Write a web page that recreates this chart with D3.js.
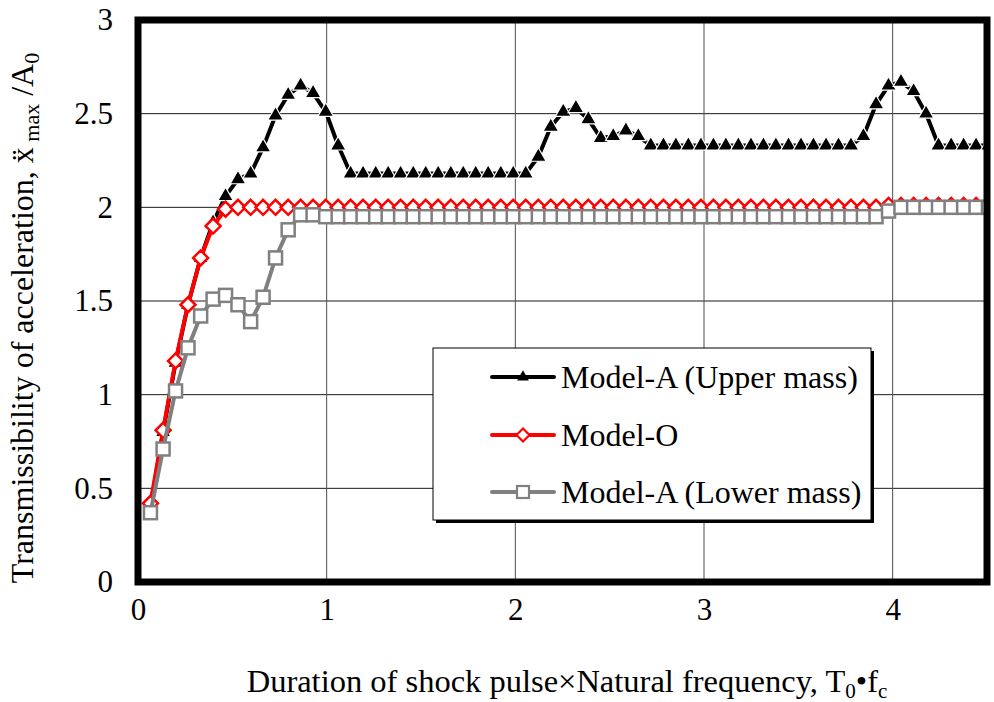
<!DOCTYPE html>
<html>
<head>
<meta charset="utf-8">
<script src="https://cdn.jsdelivr.net/npm/d3@7"></script>
<style>
  html, body { margin: 0; padding: 0; background: #fff; }
  svg { display: block; }
  text { font-family: "Liberation Serif", "Times New Roman", serif; fill: #000; }
</style>
</head>
<body>
<svg id="chart" width="994" height="702"></svg>
<script>
// Duration of shock pulse × natural frequency (T0·fc)
const durations = [
  0.066, 0.133, 0.199, 0.265, 0.332, 0.398, 0.464, 0.530, 0.597, 0.663,
  0.729, 0.796, 0.862, 0.928, 0.995, 1.061, 1.127, 1.193, 1.260, 1.326,
  1.392, 1.459, 1.525, 1.591, 1.658, 1.724, 1.790, 1.856, 1.923, 1.989,
  2.055, 2.122, 2.188, 2.254, 2.321, 2.387, 2.453, 2.519, 2.586, 2.652,
  2.718, 2.785, 2.851, 2.917, 2.984, 3.050, 3.116, 3.182, 3.249, 3.315,
  3.381, 3.448, 3.514, 3.580, 3.647, 3.713, 3.779, 3.845, 3.912, 3.978,
  4.044, 4.111, 4.177, 4.243, 4.310, 4.376, 4.442, 4.508
];

// Model-A, upper mass
const upperMass = [
  0.40, 0.80, 1.17, 1.48, 1.73, 1.92, 2.06, 2.15, 2.18, 2.32,
  2.49, 2.60, 2.65, 2.61, 2.51, 2.33, 2.18, 2.18, 2.18, 2.18,
  2.18, 2.18, 2.18, 2.18, 2.18, 2.18, 2.18, 2.18, 2.18, 2.18,
  2.18, 2.27, 2.43, 2.51, 2.53, 2.47, 2.37, 2.38, 2.41, 2.38,
  2.33, 2.33, 2.33, 2.33, 2.33, 2.33, 2.33, 2.33, 2.33, 2.33,
  2.33, 2.33, 2.33, 2.33, 2.33, 2.33, 2.33, 2.38, 2.55, 2.65,
  2.67, 2.62, 2.50, 2.33, 2.33, 2.33, 2.33, 2.33
];

// Model-O
const modelO = [
  0.42, 0.81, 1.18, 1.48, 1.73, 1.90, 1.99, 2.00, 2.00, 2.00,
  2.00, 2.00, 2.00, 2.00, 2.00, 2.00, 2.00, 2.00, 2.00, 2.00,
  2.00, 2.00, 2.00, 2.00, 2.00, 2.00, 2.00, 2.00, 2.00, 2.00,
  2.00, 2.00, 2.00, 2.00, 2.00, 2.00, 2.00, 2.00, 2.00, 2.00,
  2.00, 2.00, 2.00, 2.00, 2.00, 2.00, 2.00, 2.00, 2.00, 2.00,
  2.00, 2.00, 2.00, 2.00, 2.00, 2.00, 2.00, 2.00, 2.00, 2.01,
  2.01, 2.01, 2.01, 2.01, 2.01, 2.01, 2.01, 2.01
];

// Model-A, lower mass
const lowerMass = [
  0.37, 0.71, 1.02, 1.25, 1.42, 1.51, 1.53, 1.48, 1.39, 1.52,
  1.73, 1.88, 1.96, 1.96, 1.95, 1.95, 1.95, 1.95, 1.95, 1.95,
  1.95, 1.95, 1.95, 1.95, 1.95, 1.95, 1.95, 1.95, 1.95, 1.95,
  1.95, 1.95, 1.95, 1.95, 1.95, 1.95, 1.95, 1.95, 1.95, 1.95,
  1.95, 1.95, 1.95, 1.95, 1.95, 1.95, 1.95, 1.95, 1.95, 1.95,
  1.95, 1.95, 1.95, 1.95, 1.95, 1.95, 1.95, 1.95, 1.95, 1.98,
  2.00, 2.00, 2.00, 2.00, 2.00, 2.00, 2.00, 2.00
];

const xTicks = [0, 1, 2, 3, 4];
const yTicks = [0, 0.5, 1, 1.5, 2, 2.5, 3];
const seriesNames = ["Model-A (Upper mass)", "Model-O", "Model-A (Lower mass)"];

const svg = d3.select("#chart");
const plot = { left: 138, right: 987, top: 20, bottom: 582 };

const x = d3.scaleLinear().domain([0, 4.5]).range([plot.left, plot.right]);
const y = d3.scaleLinear().domain([0, 3]).range([plot.bottom, plot.top]);

// clip region for the data
svg.append("defs").append("clipPath").attr("id", "plotClip")
  .append("rect")
  .attr("x", plot.left).attr("y", plot.top)
  .attr("width", plot.right - plot.left).attr("height", plot.bottom - plot.top);

// gridlines
const grid = svg.append("g");
grid.selectAll("line.h").data(yTicks.filter(d => d > 0 && d < 3)).enter()
  .append("line")
  .attr("x1", plot.left).attr("x2", plot.right)
  .attr("y1", d => y(d)).attr("y2", d => y(d))
  .attr("stroke", "#1a1a1a").attr("stroke-width", 1);
grid.selectAll("line.v").data(xTicks.filter(d => d > 0)).enter()
  .append("line")
  .attr("y1", plot.top).attr("y2", plot.bottom)
  .attr("x1", d => x(d)).attr("x2", d => x(d))
  .attr("stroke", "#4d4d4d").attr("stroke-width", 1);

// axes (labels only; frame drawn separately)
const xAxis = svg.append("g")
  .attr("transform", `translate(0,${plot.bottom})`)
  .call(d3.axisBottom(x).tickValues(xTicks).tickSize(0).tickPadding(16).tickFormat(d3.format("d")));
xAxis.select(".domain").remove();
xAxis.selectAll("text").attr("font-size", 31);

const yAxis = svg.append("g")
  .attr("transform", `translate(${plot.left},0)`)
  .call(d3.axisLeft(y).tickValues(yTicks).tickSize(0).tickPadding(25).tickFormat(d => d3.format("")(d)));
yAxis.select(".domain").remove();
yAxis.selectAll("text").attr("font-size", 31);

// series
const series = [
  { name: seriesNames[0], values: upperMass, color: "#000000", marker: "triangle" },
  { name: seriesNames[1], values: modelO, color: "#ff0000", marker: "diamond" },
  { name: seriesNames[2], values: lowerMass, color: "#808080", marker: "square" }
];

function drawMarker(g, type, color) {
  if (type === "triangle") {
    g.append("path")
      .attr("d", d3.symbol(d3.symbolTriangle, 105)())
      .attr("fill", "#000").attr("stroke", "#fff").attr("stroke-width", 1.2);
  } else if (type === "diamond") {
    g.append("path")
      .attr("d", "M0,-7.5 L7.5,0 L0,7.5 L-7.5,0 Z")
      .attr("fill", "#fff").attr("stroke", color).attr("stroke-width", 2.5);
  } else {
    g.append("rect")
      .attr("x", -6.5).attr("y", -6.5).attr("width", 13).attr("height", 13)
      .attr("fill", "#fff").attr("stroke", color).attr("stroke-width", 2.5);
  }
}

const dataLayer = svg.append("g").attr("clip-path", "url(#plotClip)");
const line = d3.line().x((d, i) => x(durations[i])).y(d => y(d));

series.forEach(s => {
  const g = dataLayer.append("g");
  g.append("path")
    .attr("d", line(s.values))
    .attr("fill", "none")
    .attr("stroke", s.color)
    .attr("stroke-width", 4)
    .attr("stroke-linejoin", "round");
  s.values.forEach((v, i) => {
    const m = g.append("g").attr("transform", `translate(${x(durations[i])},${y(v)})`);
    drawMarker(m, s.marker, s.color);
  });
});

// plot frame
svg.append("rect")
  .attr("x", plot.left).attr("y", plot.top)
  .attr("width", plot.right - plot.left).attr("height", plot.bottom - plot.top)
  .attr("fill", "none").attr("stroke", "#000").attr("stroke-width", 7);

// legend
const lg = { x: 433, y: 348, w: 438, h: 172 };
svg.append("rect")
  .attr("x", lg.x + 3).attr("y", lg.y + 3).attr("width", lg.w).attr("height", lg.h)
  .attr("fill", "#000");
svg.append("rect")
  .attr("x", lg.x).attr("y", lg.y).attr("width", lg.w).attr("height", lg.h)
  .attr("fill", "#fff").attr("stroke", "#000").attr("stroke-width", 1);

const legendRows = [377, 435, 492];
series.forEach((s, i) => {
  const row = svg.append("g").attr("transform", `translate(0,${legendRows[i]})`);
  row.append("line")
    .attr("x1", 492).attr("x2", 554).attr("y1", 0).attr("y2", 0)
    .attr("stroke", s.color).attr("stroke-width", 4).attr("stroke-linecap", "round");
  const m = row.append("g").attr("transform", "translate(523,0)");
  if (s.marker === "triangle") {
    m.append("path").attr("d", d3.symbol(d3.symbolTriangle, 60)()).attr("fill", "#000");
  } else if (s.marker === "diamond") {
    m.append("path").attr("d", "M0,-6.5 L6.5,0 L0,6.5 L-6.5,0 Z")
      .attr("fill", "#fff").attr("stroke", s.color).attr("stroke-width", 2.2);
  } else {
    m.append("rect").attr("x", -6).attr("y", -6).attr("width", 12).attr("height", 12)
      .attr("fill", "#fff").attr("stroke", s.color).attr("stroke-width", 2.2);
  }
  row.append("text")
    .attr("x", 561).attr("y", 11)
    .attr("font-size", 32)
    .text(s.name);
});

// y-axis title
const yt = svg.append("text")
  .attr("transform", "translate(33,318) rotate(-90)")
  .attr("text-anchor", "middle")
  .attr("font-size", 32);
yt.append("tspan").text("Transmissibility of acceleration, x\u0308");
yt.append("tspan").attr("font-size", 22).attr("dy", 6).text(" max");
yt.append("tspan").attr("dy", -6).text(" /A");
yt.append("tspan").attr("font-size", 22).attr("dy", 6).text("0");

// x-axis title
const xt = svg.append("text")
  .attr("x", 567).attr("y", 692)
  .attr("text-anchor", "middle")
  .attr("font-size", 32.5);
xt.append("tspan").text("Duration of shock pulse\u00d7Natural frequency, T");
xt.append("tspan").attr("font-size", 21).attr("dy", 6).text("0");
xt.append("tspan").attr("dy", -6).text("\u2022");
xt.append("tspan").text("f");
xt.append("tspan").attr("font-size", 21).attr("dy", 6).text("c");
</script>
</body>
</html>
